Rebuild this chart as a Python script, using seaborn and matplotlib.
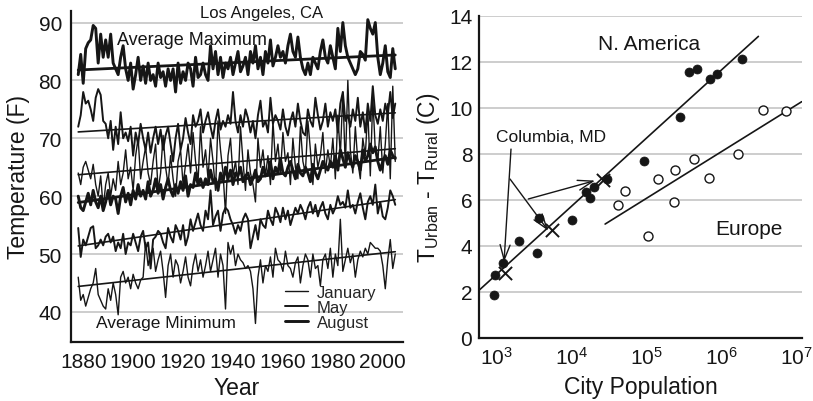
import numpy as np
import pandas as pd
import matplotlib
matplotlib.use("Agg")
import matplotlib.pyplot as plt
from matplotlib.lines import Line2D
import seaborn as sns

# ---------------- data: left panel (Los Angeles, CA) ----------------
years = list(range(1878, 2006))

upper_max = [  # ~71 -> 74 F
    72, 74, 78, 76, 76.5, 75, 73, 77, 78.5, 77.5,
    73, 72.5, 70, 73, 68, 72, 69, 74.5, 70, 71,
    69.5, 72, 67, 71, 69, 72.5, 70, 68, 71, 67.5,
    70, 72, 69, 71.5, 68, 70.5, 72, 69, 66, 70,
    72.5, 68, 70, 73.5, 71, 69, 74, 72, 73, 75,
    71, 73, 74.5, 72, 70, 73, 75, 71.5, 73, 72,
    74, 72.5, 78, 73, 71, 74, 72, 75, 73.5, 71,
    73, 70, 74, 76.5, 72, 73, 71, 77, 72.5, 74,
    73, 71.5, 75, 72, 70.5, 73, 74.5, 72, 76, 73,
    71, 70.5, 75, 73, 72, 77, 74, 71.5, 73, 76,
    72, 74.5, 73, 75, 71, 76, 78, 73, 74, 72,
    75, 73, 77, 72, 74.5, 71, 76, 73, 79, 74,
    72.5, 75, 73, 76, 74, 78, 73.5, 76]

aug_max = [
    81, 84.5, 79.5, 85.5, 86.5, 87, 89.5, 89, 83, 88,
    84, 87, 84, 88, 83, 82, 81, 84, 86, 82,
    80, 83, 78.5, 81, 84, 80, 82.5, 79.5, 83, 80,
    81, 79, 83, 80.5, 81.5, 79, 82, 80, 82, 78,
    83, 79.5, 81.5, 80, 83, 82, 79, 84, 80.5, 81,
    83, 81, 80, 86, 82, 85, 81, 84, 80.5, 83,
    82, 84, 81, 83, 85, 81.5, 82.5, 84, 81, 85,
    83, 86, 82, 84, 81, 85, 83, 87, 82.5, 84,
    86, 84, 85, 83, 86, 88, 85, 84, 87.5, 84,
    82, 81, 83, 81, 84, 83, 82, 85, 87, 84,
    83, 86, 84, 82, 89, 85, 90, 86, 84, 83,
    82, 81, 82, 85, 84.5, 83.5, 90.5, 89, 88, 90,
    84, 81, 83, 86, 81.5, 80.5, 85.5, 82]

jan_max = [
    64, 62, 65, 66, 64.5, 63, 65.5, 62, 60, 63.5,
    58, 62, 64, 60, 63, 61, 66, 62, 64, 68,
    63, 65, 61, 67, 70, 63, 66, 68.5, 64, 62,
    66, 69, 61, 64, 70.5, 65, 62, 67, 63, 60,
    66, 68, 62, 65.5, 69, 64, 71, 66, 62.5, 72,
    65, 68, 63, 70, 66, 61, 73, 68, 64, 57,
    67, 70, 63.5, 66, 62, 72, 66, 61, 68, 64,
    62, 59, 70, 65, 68, 63.5, 67, 62, 73, 66,
    69, 64, 71, 66, 67.5, 62, 70, 65, 63, 72,
    66, 64, 73, 68, 62, 69, 65, 67, 71, 64,
    68, 65, 70, 63, 74, 67, 78, 65, 80, 68,
    64, 72, 66, 63, 70, 67, 75, 63.5, 77, 68,
    66, 72, 64, 69, 76, 63, 79, 66]

aug_min = [
    60, 58, 57.5, 59, 60.5, 58.5, 61, 59, 58, 60,
    57.5, 59, 61, 58.5, 60, 59.5, 57, 60, 61.5, 59,
    60.5, 58.5, 61, 59.5, 62, 60, 61, 59.5, 62.5, 60,
    61, 63, 60.5, 62, 59.5, 61.5, 63, 61, 60, 62,
    60.5, 62.5, 61, 63.5, 60, 62, 61.5, 64, 62, 63,
    61.5, 63, 62, 64.5, 62.5, 63, 61, 64, 62.5, 65,
    63, 64.5, 62, 64, 63.5, 65, 62.5, 63.5, 64, 62,
    63, 64.5, 62.5, 63, 65, 63.5, 64, 66, 63, 65,
    64, 66.5, 64, 63.5, 65, 66, 64.5, 63, 65.5, 64,
    63.5, 65, 64, 62.5, 65.5, 64, 63, 64.5, 66, 65,
    64.5, 66, 65, 67, 64.5, 68, 66.5, 65, 67.5, 66,
    65, 67, 66, 64.5, 68, 66, 67, 69, 67.5, 68.5,
    66, 64.5, 66, 67, 65.5, 68, 67, 66.5]

may_min = [
    54.5, 49.5, 52.5, 51.5, 53, 54.5, 54.8, 51, 51.5, 52.5,
    51.5, 53, 53.5, 52, 53, 50.5, 52, 51, 53.5, 50,
    52, 51.5, 53.5, 52, 50.5, 53, 54, 51, 52, 47.5,
    52.5, 53, 54, 53.5, 52, 51, 54.5, 53, 52, 55,
    54, 52.5, 55, 51.5, 53, 56, 54, 55.5, 57, 55,
    54, 57.5, 56, 61, 55, 56.5, 57.5, 54, 57, 58,
    57.5, 56, 55, 53.5, 55, 54, 56, 57, 56, 51,
    53, 55, 52.5, 56, 55, 54.5, 57.5, 56, 55, 58,
    57, 55.5, 58, 56, 57.5, 55, 56.5, 58, 57, 58.5,
    57.5, 56, 58, 59, 57, 58.5, 56.5, 58, 59, 57,
    56, 58.5, 57, 58, 60, 58.5, 59, 58, 61, 58,
    58.5, 57, 59, 60.5, 58, 56, 59, 60, 58.5, 62,
    57, 59, 56.5, 56, 58, 61, 60, 58.5]

jan_min = [
    46, 42, 43, 41, 42.5, 44, 45, 47.5, 43, 42,
    41, 40.5, 44, 42, 45, 43, 39.5, 46, 47, 45,
    46, 44, 46.5, 45, 44, 45.5, 46, 52, 48, 50,
    51, 47, 49, 50.5, 47, 42.5, 48, 50, 46, 49,
    48, 45, 47, 49.5, 46, 44.5, 48, 50, 47, 49,
    46, 48, 50.5, 47, 49, 51, 46, 50, 48, 40.5,
    52, 50, 51.5, 48, 50, 49, 48.5, 47.5, 48, 47,
    44, 38, 46, 49, 45, 48, 47, 49.5, 46, 51,
    49, 48.5, 47, 50.5, 48, 47.5, 46, 48.5, 49.5, 45,
    48, 50, 49, 46, 50, 47.5, 48, 44.5, 49, 50,
    47.5, 51, 46, 50, 48, 56, 47, 49, 51, 48.5,
    50, 46, 49, 50.5, 49.5, 51, 50, 52, 51.5, 51,
    51, 50.5, 48, 44, 49, 52.5, 47.5, 50]

series_names = ["upper_max", "aug_max", "jan_max", "aug_min", "may_min", "jan_min"]
series_vals = [upper_max, aug_max, jan_max, aug_min, may_min, jan_min]
series_month = ["May", "August", "January", "August", "May", "January"]

trend_years = [1878, 2005]
trend_start = [71.1, 81.8, 63.7, 58.9, 51.4, 44.4]
trend_end = [74.4, 84.4, 68.2, 66.7, 59.4, 50.4]

month_labels = ["January", "May", "August"]
month_lw = {"January": 1.0, "May": 1.4, "August": 2.1}

# ---------------- data: right panel ----------------
na_pop = [920, 955, 1215, 1995, 3470, 3630, 10200, 15500, 17400, 20000,
          30200, 93300, 282000, 372000, 468000, 708000, 871000, 1905000]
na_dT = [1.87, 2.71, 3.23, 4.2, 3.68, 5.2, 5.1, 6.32, 6.07, 6.55,
         6.9, 7.7, 9.58, 11.54, 11.7, 11.23, 11.47, 12.12]

eu_pop = [42300, 52500, 105000, 141000, 240000, 234000, 437000, 692000,
          1660000, 3630000, 7240000]
eu_dT = [5.77, 6.38, 4.43, 6.9, 7.28, 5.91, 7.77, 6.94, 7.97, 9.9, 9.87]

col_pop = [1280, 5430, 26100]
col_dT = [2.8, 4.7, 6.87]

na_fit_pop = [585, 3140000]
na_fit_dT = [2.07, 13.1]
eu_fit_pop = [28100, 11900000]
eu_fit_dT = [4.94, 10.26]

col_arrow_start = [(1553, 8.2), (1506, 6.9), (2646, 6.03)]
col_arrow_end = [(1253, 3.29), (4895, 4.65), (20600, 6.83)]

# ---------------- style ----------------
sns.set_theme(style="white")
plt.rcParams["font.family"] = ["Liberation Sans", "DejaVu Sans"]
plt.rcParams["mathtext.fontset"] = "custom"
plt.rcParams["mathtext.rm"] = "Liberation Sans"
plt.rcParams["mathtext.it"] = "Liberation Sans:italic"
plt.rcParams["mathtext.bf"] = "Liberation Sans:bold"
plt.rcParams["mathtext.default"] = "regular"

INK = "#161616"
GRID = "#c9c9c9"

fig = plt.figure(figsize=(8.13, 4.02), dpi=100)
ax1 = fig.add_axes([0.0873, 0.1468, 0.4084, 0.8234])
ax2 = fig.add_axes([0.5895, 0.1575, 0.3966, 0.8010])

# ---------------- left panel ----------------
for name, vals, month in zip(series_names, series_vals, series_month):
    df = pd.DataFrame({"year": years, "temp": vals})
    sns.lineplot(data=df, x="year", y="temp", ax=ax1, color=INK,
                 lw=month_lw[month], estimator=None, legend=False)
for s, e, month in zip(trend_start, trend_end, series_month):
    dft = pd.DataFrame({"year": trend_years, "temp": [s, e]})
    sns.lineplot(data=dft, x="year", y="temp", ax=ax1, color=INK,
                 lw=2.0 if month == "August" else 1.2, estimator=None, legend=False)

ax1.set_xlim(1875.1, 2008.1)
ax1.set_ylim(34.8, 92)
ax1.set_xticks([1880, 1900, 1920, 1940, 1960, 1980, 2000])
ax1.set_yticks([40, 50, 60, 70, 80, 90])
ax1.yaxis.grid(True, color=GRID, lw=1.3)
ax1.xaxis.grid(False)
ax1.set_axisbelow(True)
ax1.set_xlabel("Year", fontsize=16.5, labelpad=4, color=INK)
ax1.set_ylabel("Temperature (F)", fontsize=16.5, labelpad=6, color=INK)
ax1.tick_params(axis="x", direction="in", length=6, width=1.5, pad=7,
                labelsize=15, colors=INK)
ax1.tick_params(axis="y", length=0, pad=6.5, labelsize=15, colors=INK)

ax1.text(1951.4, 91.7, "Los Angeles, CA", fontsize=12, ha="center", va="center", color=INK)
ax1.text(1923.5, 87.1, "Average Maximum", fontsize=13, ha="center", va="center", color=INK)
ax1.text(1913.3, 38.1, "Average Minimum", fontsize=12.5, ha="center", va="center", color=INK)

handles = [Line2D([], [], color=INK, lw=month_lw[m]) for m in month_labels]
ax1.legend(handles, month_labels, loc="upper left", bbox_to_anchor=(0.645, 0.172),
           frameon=False, fontsize=12, handlelength=1.4, handletextpad=0.5,
           labelspacing=0.0, borderpad=0, borderaxespad=0)

# ---------------- right panel ----------------
sns.lineplot(x=na_fit_pop, y=na_fit_dT, ax=ax2, color=INK, lw=1.2, estimator=None)
sns.lineplot(x=eu_fit_pop, y=eu_fit_dT, ax=ax2, color=INK, lw=1.2, estimator=None)
sns.scatterplot(x=na_pop, y=na_dT, ax=ax2, color=INK, s=42, edgecolor=INK, linewidth=0.5, zorder=3)
sns.scatterplot(x=eu_pop, y=eu_dT, ax=ax2, facecolor="white", s=42, edgecolor=INK,
                linewidth=1.0, zorder=3)
sns.scatterplot(x=col_pop, y=col_dT, ax=ax2, marker="x", color=INK, s=90, linewidth=1.4, zorder=4)

for (x0, y0), (x1, y1) in zip(col_arrow_start, col_arrow_end):
    ax2.annotate("", xy=(x1, y1), xytext=(x0, y0),
                 arrowprops=dict(arrowstyle="->,head_length=0.9,head_width=0.3",
                                 color=INK, lw=1.0, shrinkA=0, shrinkB=0))

ax2.set_xscale("log")
ax2.set_xlim(585, 1.19e7)
ax2.set_ylim(0, 14)
ax2.set_xticks([1e3, 1e4, 1e5, 1e6, 1e7])
ax2.xaxis.set_minor_locator(matplotlib.ticker.NullLocator())
ax2.set_yticks([0, 2, 4, 6, 8, 10, 12, 14])
ax2.yaxis.grid(True, color=GRID, lw=1.3)
ax2.xaxis.grid(False)
ax2.set_axisbelow(True)
ax2.set_xlabel("City Population", fontsize=16.5, labelpad=5, color=INK)
ax2.set_ylabel(r"T$_{Urban}$ - T$_{Rural}$ (C)", fontsize=16.5, labelpad=5, color=INK)
ax2.tick_params(axis="x", direction="in", length=6, width=1.5, pad=6,
                labelsize=15, colors=INK)
ax2.tick_params(axis="y", length=0, pad=5, labelsize=15, colors=INK)

ax2.text(1.07e5, 12.77, "N. America", fontsize=15, ha="center", va="center", color=INK)
ax2.text(2.32e6, 4.76, "Europe", fontsize=15, ha="center", va="center", color=INK)
ax2.text(5370, 8.73, "Columbia, MD", fontsize=12.5, ha="center", va="center", color=INK)

for ax in (ax1, ax2):
    for side in ("top", "right"):
        ax.spines[side].set_visible(False)
    for side in ("left", "bottom"):
        ax.spines[side].set_color(INK)
        ax.spines[side].set_linewidth(1.6)

fig.savefig("out.png", dpi=100)
